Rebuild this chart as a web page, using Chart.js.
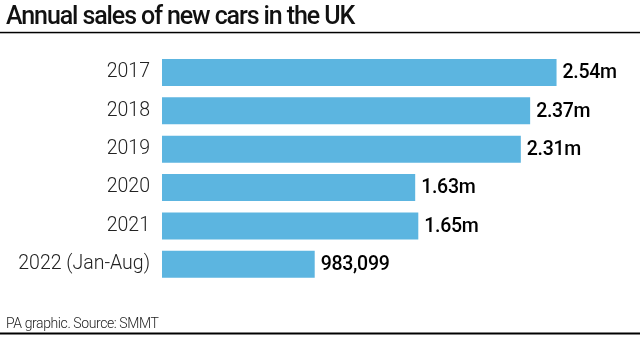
<!DOCTYPE html>
<html>
<head>
<meta charset="utf-8">
<script src="https://cdn.jsdelivr.net/npm/chart.js@4.4.0/dist/chart.umd.min.js"></script>
<style>
  html, body { margin: 0; padding: 0; background: #fff; }
  #wrap { position: relative; width: 640px; height: 339px; }
  canvas { display: block; }
</style>
</head>
<body>
<div id="wrap"><canvas id="c" width="640" height="339"></canvas></div>
<script>
const categories = ['2017', '2018', '2019', '2020', '2021', '2022 (Jan-Aug)'];
const salesMillions = [2.54, 2.37, 2.31, 1.63, 1.65, 0.983099];
const valueLabels = ['2.54m', '2.37m', '2.31m', '1.63m', '1.65m', '983,099'];
const titleText = 'Annual sales of new cars in the UK';
const footerText = 'PA graphic. Source: SMMT';

const decor = {
  id: 'decor',
  beforeDraw(chart) {
    const ctx = chart.ctx;
    ctx.save();
    ctx.fillStyle = '#fff';
    ctx.fillRect(0, 0, chart.width, chart.height);
    ctx.fillStyle = '#111';
    ctx.textBaseline = 'alphabetic';
    ctx.textAlign = 'left';
    ctx.font = '500 25px Roboto';
    ctx.letterSpacing = '-1.1px';
    ctx.fillText(titleText, 6, 24);
    ctx.fillStyle = '#000';
    ctx.fillRect(0, 31.8, chart.width, 1.5);
    ctx.fillStyle = '#222';
    ctx.font = '300 14px Roboto';
    ctx.letterSpacing = '-0.4px';
    ctx.fillText(footerText, 6, 328);
    ctx.letterSpacing = '0px';
    ctx.fillStyle = '#000';
    ctx.fillRect(0, 332.5, chart.width, 2);
    ctx.restore();
  },
  afterDatasetsDraw(chart) {
    const ctx = chart.ctx;
    const meta = chart.getDatasetMeta(0);
    ctx.save();
    ctx.fillStyle = '#000';
    ctx.font = '500 19.5px Roboto';
    ctx.letterSpacing = '-0.3px';
    ctx.textAlign = 'left';
    ctx.textBaseline = 'middle';
    meta.data.forEach((bar, i) => {
      ctx.fillText(valueLabels[i], bar.x + 6, bar.y + 1);
    });
    ctx.restore();
  }
};

new Chart(document.getElementById('c'), {
  type: 'bar',
  data: {
    labels: categories,
    datasets: [{
      data: salesMillions,
      backgroundColor: '#5cb5e0',
      borderWidth: 0,
      barPercentage: 0.9,
      categoryPercentage: 0.782
    }]
  },
  options: {
    indexAxis: 'y',
    responsive: false,
    animation: false,
    layout: { padding: { top: 53.3, bottom: 55.5, left: 0, right: 12 } },
    plugins: { legend: { display: false }, tooltip: { enabled: false }, title: { display: false } },
    scales: {
      x: { display: false, min: 0, max: 3 },
      y: {
        afterFit(scale) { scale.width = 162; },
        grid: { display: false, drawTicks: false },
        border: { display: false },
        ticks: { padding: 12, color: '#222', font: { family: 'Roboto', size: 19.5, weight: '300' } }
      }
    }
  },
  plugins: [decor]
});
</script>
</body>
</html>
